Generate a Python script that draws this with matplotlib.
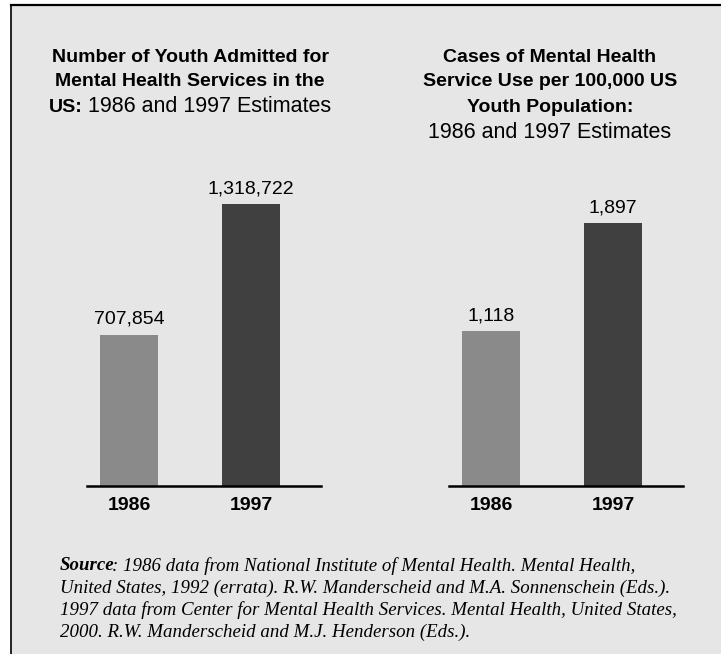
import matplotlib.pyplot as plt
from matplotlib.patches import Rectangle
from matplotlib.lines import Line2D

W_PX, H_PX = 721, 654

years = ['1986', '1997']
admitted = [707854, 1318722]
rate_per_100k = [1118, 1897]
bar_colors = ['#8a8a8a', '#404040']

left_title = [
    [('Number of Youth Admitted for', 'bold')],
    [('Mental Health Services in the', 'bold')],
    [('US:', 'bold'), (' 1986 and 1997 Estimates', 'normal')],
]
right_title = [
    [('Cases of Mental Health', 'bold')],
    [('Service Use per 100,000 US', 'bold')],
    [('Youth Population:', 'bold')],
    [('1986 and 1997 Estimates', 'normal')],
]
source_lines = [
    [('Source', 'bold'), (': 1986 data from National Institute of Mental Health. Mental Health,', 'normal')],
    [('United States, 1992 (errata). R.W. Manderscheid and M.A. Sonnenschein (Eds.).', 'normal')],
    [('1997 data from Center for Mental Health Services. Mental Health, United States,', 'normal')],
    [('2000. R.W. Manderscheid and M.J. Henderson (Eds.).', 'normal')],
]

SANS = 'Liberation Sans'
SERIF = 'Liberation Serif'


def fx(px):
    return px / W_PX


def fy(py):
    return 1 - py / H_PX


def text_line(fig, x_px, y_px, parts, size, family, style='normal', align='center',
              normal_size=None, kern=0):
    # lay out runs of different weight side by side on one line
    renderer = fig.canvas.get_renderer()
    items = []
    for s, weight in parts:
        fs = normal_size if (weight == 'normal' and normal_size) else size
        t = fig.text(0, fy(y_px), s, fontsize=fs, fontweight=weight,
                     family=family, style=style, ha='left', va='center')
        items.append((t, t.get_window_extent(renderer).width + kern))
    total = sum(w for _, w in items) - kern
    x = x_px - total / 2 if align == 'center' else x_px
    for t, w in items:
        t.set_x(fx(x))
        x += w


def bar_panel(fig, left_px, values, ymax):
    ax = fig.add_axes([fx(left_px), fy(486), fx(234), 300 / H_PX])
    ax.set_facecolor('none')
    xs = [0, 1]
    bars = ax.bar(xs, values, width=0.475, color=bar_colors)
    for b, v in zip(bars, values):
        ax.annotate(f'{v:,}', (b.get_x() + b.get_width() / 2, v),
                    xytext=(0, 5), textcoords='offset points',
                    ha='center', va='bottom', fontsize=14, family=SANS)
    ax.set_xlim(-0.344, 1.574)
    ax.set_ylim(0, ymax)
    for side in ['left', 'right', 'top']:
        ax.spines[side].set_visible(False)
    ax.spines['bottom'].set_linewidth(1.8)
    ax.set_yticks([])
    ax.set_xticks(xs)
    ax.set_xticklabels(years, fontsize=14, fontweight='bold', family=SANS)
    ax.tick_params(axis='x', length=0, pad=8)
    return ax


fig = plt.figure(figsize=(W_PX / 100, H_PX / 100), dpi=100)
fig.patch.set_facecolor('white')

# grey panel with a rule along the top and left edge
fig.patches.append(Rectangle((fx(11), 0), 1 - fx(11), fy(5), transform=fig.transFigure,
                             facecolor='#e6e6e6', edgecolor='none', zorder=-5))
fig.lines.append(Line2D([fx(11), 1], [fy(5), fy(5)], transform=fig.transFigure,
                        color='black', linewidth=1.6, zorder=-4))
fig.lines.append(Line2D([fx(11), fx(11)], [0, fy(5)], transform=fig.transFigure,
                        color='black', linewidth=1.2, zorder=-4))

bar_panel(fig, 87, admitted, 1318722 * 300 / 282)
bar_panel(fig, 449, rate_per_100k, 1897 * 300 / 263)

for i, parts in enumerate(left_title):
    text_line(fig, 190, 57 + 25 * i, parts, 14, SANS, normal_size=15.5)
for i, parts in enumerate(right_title):
    text_line(fig, 550, 57 + 25 * i, parts, 14, SANS, normal_size=15.5)

for i, parts in enumerate(source_lines):
    text_line(fig, 60, 566 + 22 * i, parts, 13.6, SERIF, style='italic', align='left',
              kern=-3)

fig.savefig('out.png', dpi=100)
